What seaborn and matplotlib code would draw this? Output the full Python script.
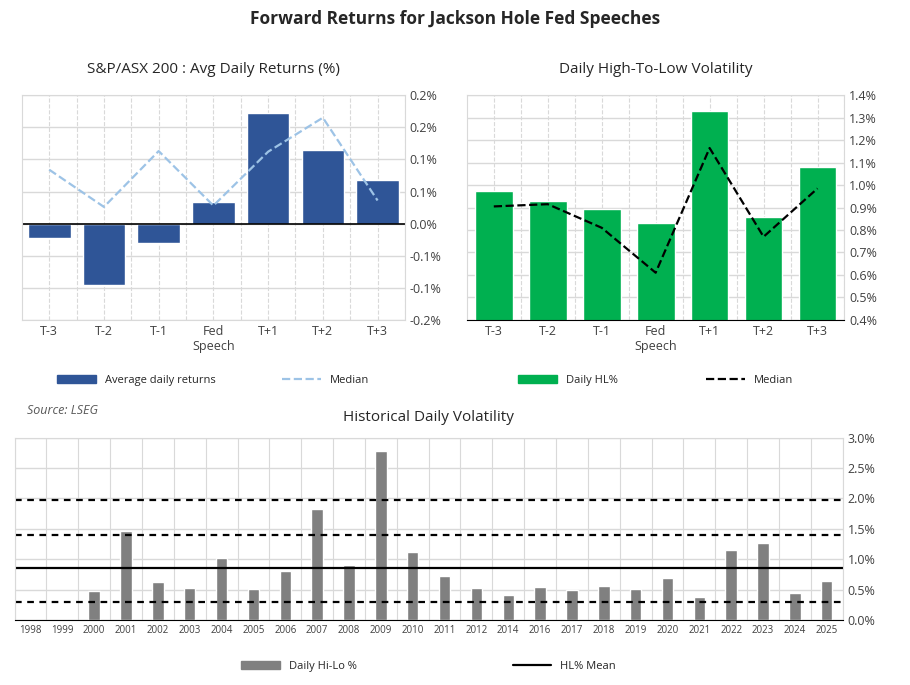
import matplotlib
matplotlib.use("Agg")
import matplotlib.pyplot as plt
import seaborn as sns
import pandas as pd
import numpy as np
from matplotlib.lines import Line2D
from matplotlib.patches import Patch

sns.set_style("white")
plt.rcParams['font.family'] = ['Open Sans', 'DejaVu Sans']

cats = ["T-3", "T-2", "T-1", "Fed\nSpeech", "T+1", "T+2", "T+3"]
avg_ret = [-0.023, -0.095, -0.030, 0.033, 0.172, 0.115, 0.068]
avg_med = [0.084, 0.026, 0.113, 0.028, 0.112, 0.165, 0.036]
hl = [0.975, 0.93, 0.895, 0.83, 1.33, 0.86, 1.08]
hl_med = [0.905, 0.915, 0.81, 0.61, 1.165, 0.77, 0.985]
ret_ticks = [-0.15, -0.10, -0.05, 0.0, 0.05, 0.10, 0.15, 0.20]
ret_tick_labels = ["-0.2%", "-0.1%", "-0.1%", "0.0%", "0.1%", "0.1%", "0.2%", "0.2%"]

years = ["1998", "1999", "2000", "2001", "2002", "2003", "2004", "2005", "2006", "2007",
         "2008", "2009", "2010", "2011", "2012", "2014", "2016", "2017", "2018", "2019",
         "2020", "2021", "2022", "2023", "2024", "2025"]
hilo = [0, 0, 0.48, 1.47, 0.62, 0.53, 1.02, 0.51, 0.81, 1.82, 0.90, 2.78, 1.12, 0.72,
        0.53, 0.41, 0.54, 0.49, 0.56, 0.51, 0.69, 0.38, 1.15, 1.27, 0.44, 0.64]
hl_mean = 0.86
hl_bands = [1.97, 1.40, 0.30]

fig = plt.figure(figsize=(9.1, 6.85), dpi=100)
fig.text(0.5, 0.972, "Forward Returns for Jackson Hole Fed Speeches", ha="center",
         va="center", fontsize=12.5, fontweight="bold")

grid_c = "#d9d9d9"
tc = "#404040"

def style(ax):
    for s in ax.spines.values():
        s.set_color(grid_c)
    ax.yaxis.tick_right()
    ax.tick_params(axis="both", length=0, labelsize=9, colors=tc)
    ax.set_xlabel(""); ax.set_ylabel("")

# top-left
ax1 = fig.add_axes([0.024, 0.533, 0.421, 0.328])
df1 = pd.DataFrame({"cat": cats, "v": avg_ret})
sns.barplot(data=df1, x="cat", y="v", ax=ax1, color="#2f5597", width=0.78, saturation=1)
ax1.plot(range(7), avg_med, ls="--", color="#9dc3e6", lw=1.6)
ax1.axhline(0, color="black", lw=1.2)
ax1.set_ylim(-0.15, 0.20)
ax1.set_yticks(ret_ticks, ret_tick_labels)
ax1.set_xlim(-0.5, 6.5)
ax1.yaxis.grid(True, color=grid_c, lw=1)
for x in np.arange(0, 7, 0.5):
    ax1.axvline(x, color=grid_c, lw=0.8, ls="--", zorder=0)
ax1.set_axisbelow(True)
style(ax1)
ax1.set_title("S&P/ASX 200 : Avg Daily Returns (%)", fontsize=11, color="#262626", pad=16)
ax1.legend(handles=[Patch(color="#2f5597", label="Average daily returns"),
                    Line2D([], [], color="#9dc3e6", ls="--", lw=1.6, label="Median")],
           loc="upper center", bbox_to_anchor=(0.5, -0.2), ncol=2, frameon=False,
           fontsize=8, columnspacing=6, handlelength=3.5)

# top-right
ax2 = fig.add_axes([0.513, 0.533, 0.415, 0.328])
df2 = pd.DataFrame({"cat": cats, "v": hl})
sns.barplot(data=df2, x="cat", y="v", ax=ax2, color="#00b050", width=0.7, saturation=1)
ax2.plot(range(7), hl_med, ls="--", color="black", lw=1.6)
ax2.set_ylim(0.4, 1.4)
ax2.set_yticks(np.round(np.arange(0.4, 1.41, 0.1), 1))
ax2.set_yticklabels([f"{t:.1f}%" for t in np.arange(0.4, 1.41, 0.1)])
ax2.set_xlim(-0.5, 6.5)
ax2.yaxis.grid(True, color=grid_c, lw=1)
for x in np.arange(0, 7, 0.5):
    ax2.axvline(x, color=grid_c, lw=0.8, ls="--", zorder=0)
ax2.set_axisbelow(True)
style(ax2)
ax2.spines["bottom"].set_color("black")
ax2.set_title("Daily High-To-Low Volatility", fontsize=11, color="#262626", pad=16)
ax2.legend(handles=[Patch(color="#00b050", label="Daily HL%"),
                    Line2D([], [], color="black", ls="--", lw=1.6, label="Median")],
           loc="upper center", bbox_to_anchor=(0.5, -0.2), ncol=2, frameon=False,
           fontsize=8, columnspacing=8, handlelength=3.5)

# bottom
ax3 = fig.add_axes([0.016, 0.095, 0.910, 0.266])
df3 = pd.DataFrame({"yr": years, "v": hilo})
sns.barplot(data=df3, x="yr", y="v", ax=ax3, color="#808080", width=0.36, saturation=1)
n = len(years)
ax3.set_xlim(-0.5, n - 0.5)
ax3.set_ylim(0, 3.0)
yt = np.arange(0, 3.01, 0.5)
ax3.set_yticks(yt, [f"{t:.1f}%" for t in yt])
ax3.yaxis.grid(True, color=grid_c, lw=1)
for x in np.arange(-0.5, n, 1):
    ax3.axvline(x, color=grid_c, lw=0.8, zorder=0)
ax3.set_axisbelow(True)
ax3.hlines(hl_mean, -0.5, n - 0.5, color="black", lw=1.6)
for b in hl_bands:
    ax3.hlines(b, -0.5, n - 0.5, color="black", lw=1.6, ls=(0, (3, 2.5)))
style(ax3)
ax3.spines["bottom"].set_color("black")
ax3.tick_params(axis="x", labelsize=7)
ax3.set_title("Historical Daily Volatility", fontsize=11, color="#262626", pad=12)
fig.text(0.03, 0.395, "Source: LSEG", fontsize=9, style="italic", color="#595959")
ax3.legend(handles=[Patch(color="#808080", label="Daily Hi-Lo %"),
                    Line2D([], [], color="black", lw=1.6, label="HL% Mean")],
           loc="upper center", bbox_to_anchor=(0.5, -0.17), ncol=2, frameon=False,
           fontsize=8, columnspacing=14, handlelength=3.5)

fig.savefig("out.png", dpi=100, facecolor="white")
